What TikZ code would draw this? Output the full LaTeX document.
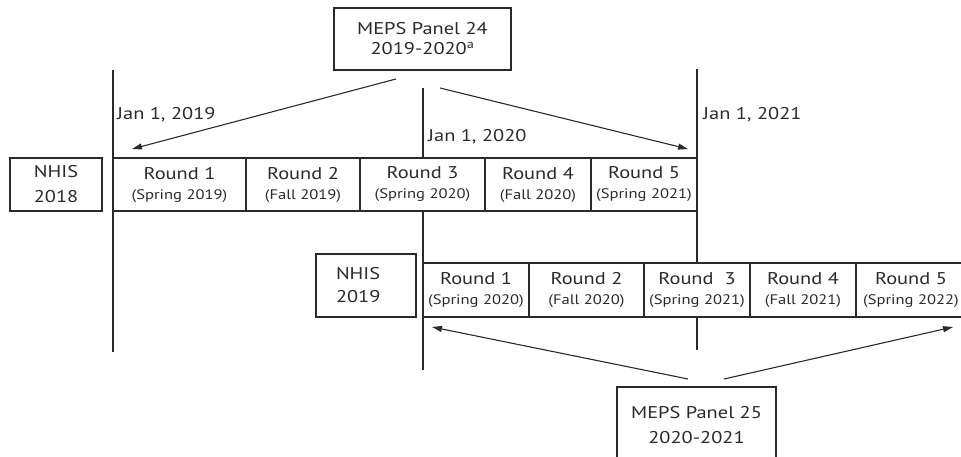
\documentclass[tikz,border=0pt]{standalone}
\usepackage{fontspec}
\setmainfont{PT Sans}[FakeStretch=1.2]
\usetikzlibrary{arrows.meta}
\definecolor{ink}{HTML}{2A2A2A}
\newcommand{\mainsize}{\fontsize{17}{20}\selectfont}
\newcommand{\subsize}{\fontsize{13.8}{16}\selectfont}
\tikzset{
  box/.style={draw=ink, fill=white, line width=1.2pt, rectangle, inner sep=0pt, align=center, text=ink, font=\mainsize},
  cell/.style={box, minimum height=53pt},
  vline/.style={draw=ink, line width=1.2pt},
  arr/.style={draw=ink, line width=1.1pt, -{Triangle[length=10pt,width=6pt]}},
  lbl/.style={text=ink, font=\mainsize, anchor=base west, inner sep=0pt},
}
\newcommand{\rnd}[2]{#1\\{\subsize #2}}
\begin{document}
\begin{tikzpicture}[x=1pt,y=-1pt]
\useasboundingbox (0,0) rectangle (961,457);
\begin{scope}
\clip (0,0) rectangle (961,457);
% vertical lines
\coordinate (v1t) at (113,70);  \coordinate (v1b) at (113,352);
\coordinate (v2t) at (423,88);  \coordinate (v2b) at (423,370);
\coordinate (v3t) at (697,69);  \coordinate (v3b) at (697,350);
\draw[vline] (v1t) -- (v1b);
\draw[vline] (v2t) -- (v2b);
\draw[vline] (v3t) -- (v3b);
% MEPS 24
\node[box, minimum width=177pt, minimum height=62pt] (m24) at (422.5,39) {MEPS Panel 24\\2019-2020\textsuperscript{a}};
% top row
\node[cell, minimum width=92pt] (n18) at (56,184.5) {NHIS\\[5pt]2018};
\node[cell, minimum width=133pt] (a1) at (179.5,184.5) {\rnd{Round 1}{(Spring 2019)}};
\node[cell, minimum width=114pt] (a2) at (303,184.5) {\rnd{Round 2}{(Fall 2019)}};
\node[cell, minimum width=125pt] (a3) at (422.5,184.5) {\rnd{Round 3}{(Spring 2020)}};
\node[cell, minimum width=106pt] (a4) at (538,184.5) {\rnd{Round 4}{(Fall 2020)}};
\node[cell, minimum width=106pt] (a5) at (644,184.5) {\rnd{Round 5}{(Spring 2021)}};
% labels
\node[lbl] (j19) at (117,120) {Jan 1, 2019};
\node[lbl] (j20) at (428,142) {Jan 1, 2020};
\node[lbl] (j21) at (703,120) {Jan 1, 2021};
% arrows panel 24
\coordinate (p24l) at (396,79); \coordinate (e24l) at (132,149);
\coordinate (p24r) at (440,88); \coordinate (e24r) at (688,149);
\draw[arr] (p24l) -- (e24l);
\draw[arr] (p24r) -- (e24r);
% bottom row
\node[box, minimum width=100pt, minimum height=63pt, text width=60pt, align=left, inner xsep=20pt] (n19) at (366,285.5) {NHIS\\[3pt]2019};
\node[cell, minimum width=106pt, minimum height=54pt] (b1) at (476,290) {\rnd{Round 1}{(Spring 2020)}};
\node[cell, minimum width=115pt, minimum height=54pt] (b2) at (586.5,290) {\rnd{Round 2}{(Fall 2020)}};
\node[cell, minimum width=106pt, minimum height=54pt] (b3) at (697,290) {\rnd{Round\ \ 3}{(Spring 2021)}};
\node[cell, minimum width=106pt, minimum height=54pt] (b4) at (803,290) {\rnd{Round 4}{(Fall 2021)}};
\node[cell, minimum width=110pt, minimum height=54pt] (b5) at (911,290) {\rnd{Round 5}{(Spring 2022)}};
% MEPS 25
\node[box, minimum width=159pt, minimum height=76pt] (m25) at (696.5,425) {MEPS Panel 25\\[5pt]2020-2021};
\coordinate (p25l) at (688,379); \coordinate (e25l) at (432,327);
\coordinate (p25r) at (724,379); \coordinate (e25r) at (953,327);
\draw[arr] (p25l) -- (e25l);
\draw[arr] (p25r) -- (e25r);
\end{scope}
\end{tikzpicture}
\end{document}
